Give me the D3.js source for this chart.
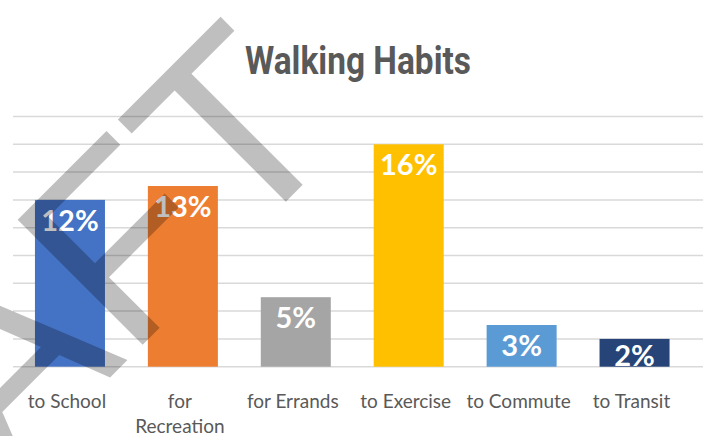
<!DOCTYPE html>
<html lang="en">
<head>
<meta charset="utf-8">
<script src="https://d3js.org/d3.v7.min.js"></script>
<style>
  html, body { margin: 0; padding: 0; background: #fff; }
  svg { display: block; }
</style>
</head>
<body>
<div id="chart"></div>
<script>
  // chart data
  const categories = ["to School", "for Recreation", "for Errands", "to Exercise", "to Commute", "to Transit"];
  const tickLines = [["to School"], ["for", "Recreation"], ["for Errands"], ["to Exercise"], ["to Commute"], ["to Transit"]];
  const shares = [12, 13, 5, 16, 3, 2];
  const colors = ["#4472C4", "#ED7D31", "#A5A5A5", "#FFC000", "#5B9BD5", "#264478"];
  const gridTicks = [0, 2, 4, 6, 8, 10, 12, 14, 16, 18];

  var width = 709,
      height = 436;

  var svg = d3.select("#chart")
              .append("svg")
              .attr("width", width)
              .attr("height", height);

  var x = d3.scaleBand()
            .domain(categories)
            .range([13.5, 691])
            .paddingInner(0.38)
            .paddingOuter(0.19);

  var y = d3.scaleLinear()
            .domain([0, 18])
            .range([366.7, 116.5]);

  // horizontal gridlines (baseline included)
  svg.append("g")
     .selectAll("line")
     .data(gridTicks)
     .join("line")
     .attr("x1", 13)
     .attr("x2", 703)
     .attr("y1", d => y(d))
     .attr("y2", d => y(d))
     .attr("stroke", "#d9d9d9")
     .attr("stroke-width", 1.5);

  // bars
  svg.append("g")
     .selectAll("rect")
     .data(shares)
     .join("rect")
     .attr("x", (d, i) => x(categories[i]))
     .attr("width", x.bandwidth())
     .attr("y", d => y(d))
     .attr("height", d => y(0) - y(d))
     .attr("fill", (d, i) => colors[i]);

  // value labels, inside end
  svg.append("g")
     .selectAll("text")
     .data(shares)
     .join("text")
     .attr("x", (d, i) => x(categories[i]) + x.bandwidth() / 2)
     .attr("y", d => Math.min(y(d) + 31, y(0) - 0.5))
     .attr("text-anchor", "middle")
     .attr("font-family", "Lato, 'Open Sans', sans-serif")
     .attr("font-weight", 700)
     .attr("font-size", 29)
     .attr("fill", "#fff")
     .text(d => d + "%");

  // category labels
  var ticks = svg.append("g")
     .selectAll("text")
     .data(tickLines)
     .join("text")
     .attr("text-anchor", "middle")
     .attr("font-family", "Lato, 'Open Sans', sans-serif")
     .attr("font-size", 19)
     .attr("fill", "#595959");

  ticks.selectAll("tspan")
     .data((d, i) => d.map(t => ({ t: t, i: i })))
     .join("tspan")
     .attr("x", d => x(categories[d.i]) + x.bandwidth() / 2 - 3)
     .attr("y", (d, j) => 408 + j * 25)
     .text(d => d.t);

  // title
  svg.append("text")
     .attr("x", 358)
     .attr("y", 73.5)
     .attr("text-anchor", "middle")
     .attr("font-family", "Roboto, sans-serif")
     .attr("font-weight", 700)
     .attr("font-size", 38)
     .attr("textLength", 226)
     .attr("lengthAdjust", "spacingAndGlyphs")
     .attr("fill", "#595959")
     .text("Walking Habits");

  // DRAFT watermark on top
  svg.append("text")
     .attr("transform", "translate(349.8,137.7) rotate(-45)")
     .attr("text-anchor", "end")
     .attr("font-family", "'Liberation Sans', Arial, sans-serif")
     .attr("font-size", 257)
     .style("font-kerning", "none")
     .attr("fill", "#000")
     .attr("fill-opacity", 0.25)
     .text("DRAFT");
</script>
</body>
</html>
